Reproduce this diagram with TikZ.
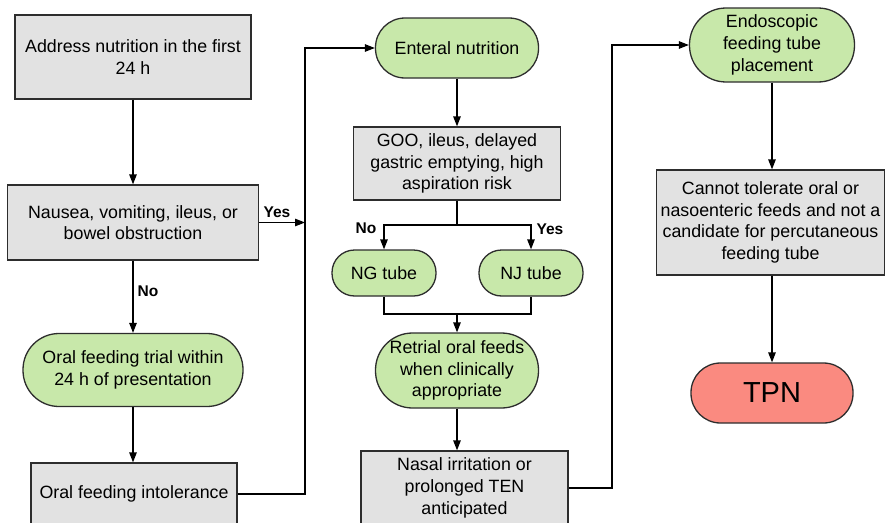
\documentclass[tikz,border=0pt]{standalone}
\usepackage{fontspec}
\setmainfont{Liberation Sans}
\usepackage{tikz}
\usetikzlibrary{arrows.meta}

\definecolor{boxgray}{RGB}{226,226,226}
\definecolor{termgreen}{RGB}{200,232,170}
\definecolor{termred}{RGB}{250,138,128}
\definecolor{edgegray}{RGB}{45,45,45}

\tikzset{
  graybox/.style={draw=edgegray, line width=1.3pt, fill=boxgray, align=center, inner sep=2pt},
  greenterm/.style={draw=edgegray, line width=1.3pt, fill=termgreen, align=center, inner sep=1pt},
  redterm/.style={draw=edgegray, line width=1.3pt, fill=termred, align=center},
  flow/.style={line width=1.3pt, -{Triangle[length=10pt,width=7.5pt]}},
  link/.style={line width=1.3pt},
  yesno/.style={font=\fontsize{15.5}{17}\selectfont\bfseries}
}

\begin{document}
\begin{tikzpicture}[x=1pt, y=-1pt, font=\fontsize{17.8}{21.7}\selectfont]
    \useasboundingbox (0,0) rectangle (886,522);
    \node[graybox, minimum width=236pt, minimum height=84pt] (address) at (133,57) {Address nutrition in the first\\24 h};
    \node[graybox, minimum width=251pt, minimum height=75pt] (nausea) at (133,222.5) {Nausea, vomiting, ileus, or\\bowel obstruction};
    \node[greenterm, minimum width=220pt, minimum height=73pt, rounded corners=36pt] (oral) at (133,370) {Oral feeding trial within\\24 h of presentation};
    \node[graybox, minimum width=206pt, minimum height=62pt] (intol) at (134,494) {Oral feeding intolerance};
    \node[greenterm, minimum width=163pt, minimum height=60pt, rounded corners=29.5pt] (enteral) at (457,48) {Enteral nutrition};
    \node[graybox, minimum width=207pt, minimum height=73pt] (goo) at (457,163.5) {GOO, ileus, delayed\\gastric emptying, high\\aspiration risk};
    \node[greenterm, minimum width=104pt, minimum height=46pt, rounded corners=22.5pt] (ng) at (384,273) {NG tube};
    \node[greenterm, minimum width=104pt, minimum height=46pt, rounded corners=22.5pt] (nj) at (531,273) {NJ tube};
    \node[greenterm, minimum width=163pt, minimum height=75pt, rounded corners=37pt] (retrial) at (457,370.5) {Retrial oral feeds\\when clinically\\appropriate};
    \node[graybox, minimum width=207pt, minimum height=74pt] (nasal) at (464.5,488) {Nasal irritation or\\prolonged TEN\\anticipated};
    \node[greenterm, minimum width=165pt, minimum height=74pt, rounded corners=36.5pt] (endo) at (772,45) {Endoscopic\\feeding tube\\placement};
    \node[graybox, minimum width=228pt, minimum height=105pt] (cannot) at (770.5,222.5) {Cannot tolerate oral or\\nasoenteric feeds and not a\\candidate for percutaneous\\feeding tube};
    \node[redterm, minimum width=162pt, minimum height=60pt, rounded corners=29.5pt, font=\fontsize{29}{32}\selectfont] (tpn) at (772,393) {TPN};
    \coordinate (busA) at (305,48);
    \coordinate (busB) at (612,45);
    \coordinate (split) at (457,225);
    \coordinate (merge) at (457,314);
    \draw[flow] (address.south) -- (address.south |- nausea.north);
    \draw[flow] (nausea.south) -- (nausea.south |- oral.north);
    \draw[flow] (oral.south) -- (oral.south |- intol.north);
    \draw[flow] (nausea.east) -- (nausea.east -| busA);
    \draw[flow] (intol.east) -| (busA) -- (enteral.west);
    \draw[flow] (enteral.south) -- (goo.north);
    \draw[link] (goo.south) -- (split);
    \draw[flow] (split) -| (ng.north);
    \draw[flow] (split) -| (nj.north);
    \draw[link] (ng.south) |- (merge) -| (nj.south);
    \draw[flow] (merge) -- (retrial.north);
    \draw[flow] (retrial.south) -- (retrial.south |- nasal.north);
    \draw[flow] (nasal.east) -| (busB) -- (endo.west);
    \draw[flow] (endo.south) -- (endo.south |- cannot.north);
    \draw[flow] (tpn.north |- cannot.south) -- (tpn.north);
    \node[yesno] (yesA) at (277,212) {Yes};
    \node[yesno] (noA) at (148,291) {No};
    \node[yesno] (noB) at (366,228) {No};
    \node[yesno] (yesB) at (550,229) {Yes};
\end{tikzpicture}
\end{document}
